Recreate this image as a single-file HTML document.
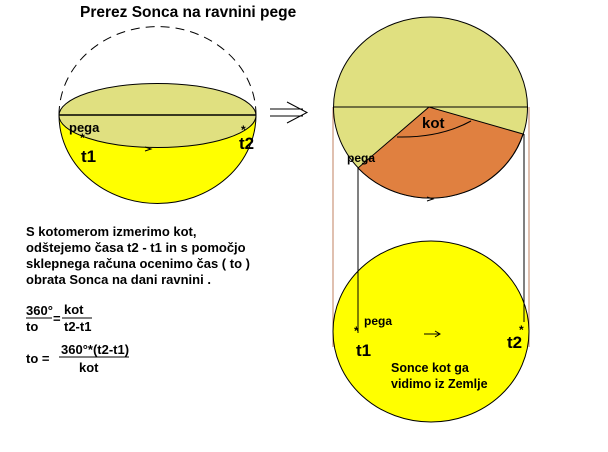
<!DOCTYPE html>
<html><head><style>body{margin:0;background:#fff}svg{display:block}</style></head><body>
<svg width="608" height="452" viewBox="0 0 608 452" xmlns="http://www.w3.org/2000/svg" font-family="Liberation Sans, Arial, sans-serif" font-weight="bold">
<!-- left half sphere -->
<path d="M59,115 A98,88 0 0 0 256,115 Z" fill="#ffff00" stroke="#000" stroke-width="1"/>
<path d="M59,115 A98,88 0 0 1 256,115" fill="none" stroke="#000" stroke-dasharray="9,6"/>
<ellipse cx="157.5" cy="115.5" rx="98.5" ry="32" fill="#e0e080" stroke="#000"/>
<line x1="59" y1="115" x2="256" y2="115" stroke="#000" stroke-width="1.5"/>
<path d="M145,147 l6,2 -6,2" fill="none" stroke="#000"/>
<text x="69" y="132" font-size="13">pega</text>
<text x="81" y="162" font-size="17">t1</text>
<text x="239" y="149" font-size="17">t2</text>
<text x="80" y="142" font-size="12">*</text>
<text x="241" y="134" font-size="12">*</text>
<text x="80" y="17" font-size="15.5">Prerez Sonca na ravnini pege</text>
<!-- implies arrow -->
<path d="M270,109 H303 M270,116 H303 M287,102 L307,112.5 L287,123" fill="none" stroke="#000"/>
<!-- right top circle -->
<line x1="333" y1="107" x2="333" y2="347" stroke="#c08060"/>
<line x1="529" y1="107" x2="529" y2="347" stroke="#c08060"/>
<ellipse cx="430.5" cy="107.5" rx="97" ry="90.5" fill="#e0e080" stroke="#000"/>
<path d="M429,107 L358,168 A97,90.5 0 0 0 523,134 Z" fill="#e08040" stroke="#000"/>
<line x1="333" y1="107" x2="528" y2="107" stroke="#000"/>
<path d="M397,137 Q440,138 471,121" fill="none" stroke="#000"/>
<text x="422" y="128" font-size="15">kot</text>
<text x="347" y="162" font-size="12">pega</text>
<path d="M427,197 l6,2 -6,2" fill="none" stroke="#000"/>
<!-- bottom circle -->
<ellipse cx="431" cy="331.5" rx="98" ry="90.5" fill="#ffff00" stroke="#000"/>
<line x1="358" y1="168" x2="358" y2="333" stroke="#000"/>
<line x1="524" y1="134" x2="524" y2="322" stroke="#000"/>
<text x="354" y="335" font-size="12">*</text>
<text x="519" y="334" font-size="12">*</text>
<text x="364" y="325" font-size="12">pega</text>
<text x="356" y="356" font-size="17">t1</text>
<text x="507" y="348" font-size="17">t2</text>
<path d="M424,334 H440 M435,331 L440,334 435,337" fill="none" stroke="#000"/>
<text x="391" y="372" font-size="12.5">Sonce kot ga</text>
<text x="391" y="388" font-size="12.5">vidimo iz Zemlje</text>
<!-- text block -->
<g font-size="13">
<text x="26" y="236">S kotomerom izmerimo kot,</text>
<text x="26" y="252">odštejemo časa t2 - t1 in s pomočjo</text>
<text x="26" y="268">sklepnega računa ocenimo čas ( to )</text>
<text x="26" y="284">obrata Sonca na dani ravnini .</text>
<text x="26" y="315">360°</text>
<line x1="26" y1="318" x2="52" y2="318" stroke="#000"/>
<text x="26" y="331">to</text>
<text x="53" y="323">=</text>
<text x="64" y="314">kot</text>
<line x1="62" y1="318" x2="92" y2="318" stroke="#000"/>
<text x="64" y="331">t2-t1</text>
<text x="26" y="363">to  =</text>
<text x="61" y="354">360°*(t2-t1)</text>
<line x1="59" y1="357" x2="129" y2="357" stroke="#000"/>
<text x="79" y="372">kot</text>
</g>
</svg>
</body></html>
